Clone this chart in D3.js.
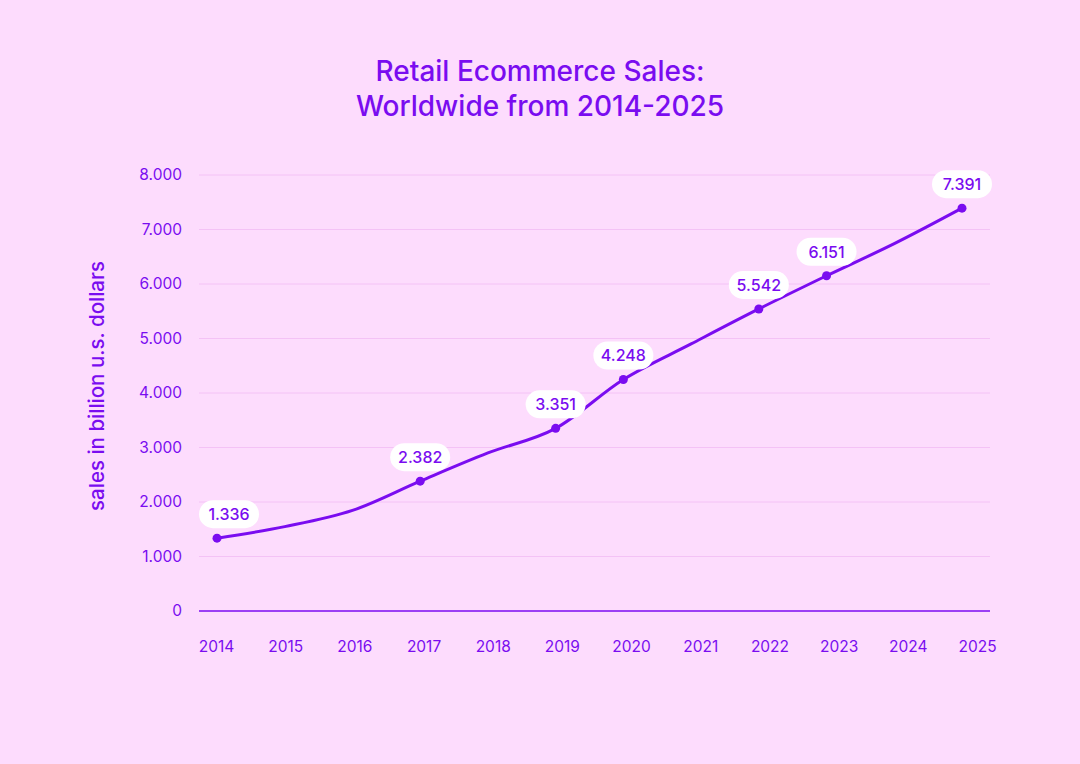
<!DOCTYPE html>
<html>
<head>
<meta charset="utf-8">
<script src="https://cdn.jsdelivr.net/npm/d3@7"></script>
<style>
  html, body { margin: 0; padding: 0; background: #fddcfd; }
  svg { display: block; }
</style>
</head>
<body>
<div id="chart"></div>
<script>
let years = ['2014', '2015', '2016', '2017', '2018', '2019', '2020', '2021', '2022', '2023', '2024', '2025'];
let sales = [1336, 1548, 1845, 2382, 2900, 3351, 4248, 4900, 5542, 6151, 6740, 7391];
let labelled = ['2014', '2017', '2019', '2020', '2022', '2023', '2025'];
let y_ticks = [0, 1000, 2000, 3000, 4000, 5000, 6000, 7000, 8000];

let purple = '#7a0cf0';
let font = 'Inter, "Open Sans", sans-serif';

function fmt(v) {
    // dots as thousands separator, like the picture
    return d3.format(',')(v).replace(/,/g, '.');
}

function draw_chart() {
    let width = 1080, height = 764;
    let margin = {left: 199, right: 90, top: 175, bottom: 153};

    let svg = d3.select('#chart')
        .append('svg')
        .attr('width', width)
        .attr('height', height)
        .style('font-family', font);

    svg.append('rect')
        .attr('width', width)
        .attr('height', height)
        .attr('fill', '#fddcfd');

    // tick labels are spread a little wider than the line itself
    let x = d3.scalePoint()
        .domain(years)
        .range([216, 977]);

    let xl = d3.scalePoint()
        .domain(years)
        .range([217, 962]);

    let y = d3.scaleLinear()
        .domain([0, 8000])
        .range([height - margin.bottom, margin.top]);

    // title
    let title = svg.append('text')
        .attr('text-anchor', 'middle')
        .attr('fill', purple)
        .attr('font-size', 28)
        .attr('font-weight', 500);
    title.append('tspan').attr('x', 540).attr('y', 81).text('Retail Ecommerce Sales:');
    title.append('tspan').attr('x', 540).attr('y', 116).text('Worldwide from 2014-2025');

    // grid lines
    svg.append('g')
        .selectAll('line')
        .data(y_ticks.filter(d => d > 0))
        .join('line')
        .attr('x1', margin.left)
        .attr('x2', width - margin.right)
        .attr('y1', d => y(d))
        .attr('y2', d => y(d))
        .attr('stroke', '#f4c2f6')
        .attr('stroke-width', 1);

    // baseline
    svg.append('line')
        .attr('x1', margin.left)
        .attr('x2', width - margin.right)
        .attr('y1', y(0))
        .attr('y2', y(0))
        .attr('stroke', purple)
        .attr('stroke-width', 1.5);

    // y axis
    let yAxis = svg.append('g')
        .attr('transform', `translate(${margin.left - 17},0)`)
        .call(d3.axisLeft(y).tickValues(y_ticks).tickFormat(fmt).tickSize(0).tickPadding(0));
    yAxis.select('.domain').remove();
    yAxis.selectAll('text')
        .attr('fill', purple)
        .attr('font-size', 15.5)
        .attr('font-family', font);

    // x axis
    let xAxis = svg.append('g')
        .attr('transform', `translate(0,${y(0) + 30})`)
        .call(d3.axisBottom(x).tickSize(0).tickPadding(0));
    xAxis.select('.domain').remove();
    xAxis.selectAll('text')
        .attr('fill', purple)
        .attr('font-size', 15.5)
        .attr('font-family', font);

    // y axis title
    svg.append('text')
        .attr('transform', 'translate(104,386) rotate(-90)')
        .attr('text-anchor', 'middle')
        .attr('fill', purple)
        .attr('font-size', 20.5)
        .attr('font-weight', 500)
        .text('sales in billion u.s. dollars');

    let data = years.map((d, i) => ({year: d, value: sales[i]}));

    let line = d3.line()
        .curve(d3.curveMonotoneX)
        .x(d => xl(d.year))
        .y(d => y(d.value));

    svg.append('path')
        .datum(data)
        .attr('d', line)
        .attr('fill', 'none')
        .attr('stroke', purple)
        .attr('stroke-width', 3)
        .attr('stroke-linecap', 'round');

    let marks = data.filter(d => labelled.includes(d.year));

    svg.append('g')
        .selectAll('circle')
        .data(marks)
        .join('circle')
        .attr('cx', d => xl(d.year))
        .attr('cy', d => y(d.value))
        .attr('r', 4.5)
        .attr('fill', purple);

    let tags = svg.append('g')
        .selectAll('g')
        .data(marks)
        .join('g')
        .attr('transform', d => `translate(${xl(d.year) + (d.year === '2014' ? 12 : 0)},${y(d.value) - 24})`);

    tags.append('rect')
        .attr('x', -30)
        .attr('y', -14)
        .attr('width', 60)
        .attr('height', 28)
        .attr('rx', 14)
        .attr('fill', '#ffffff');

    tags.append('text')
        .attr('text-anchor', 'middle')
        .attr('dy', '0.36em')
        .attr('fill', purple)
        .attr('font-size', 16)
        .attr('font-weight', 500)
        .text(d => fmt(d.value));
}

draw_chart();
</script>
</body>
</html>
